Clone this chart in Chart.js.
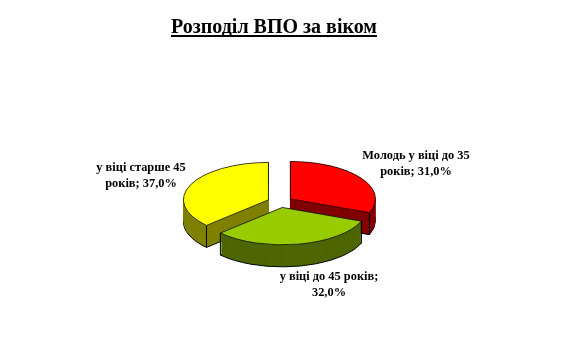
<!DOCTYPE html>
<html>
<head>
<meta charset="utf-8">
<title>Розподіл ВПО за віком</title>
<script src="https://cdn.jsdelivr.net/npm/chart.js@4"></script>
<style>
  html, body { margin: 0; background: #fff; }
  canvas { display: block; }
</style>
</head>
<body>
<canvas id="piechart" width="587" height="340"></canvas>
<script>
const categories = ["Молодь у віці до 35 років", "у віці до 45 років", "у віці старше 45 років"];
const values = [31, 32, 37];
const titleText = "Розподіл ВПО за віком";

const topColors = ["#ff0000", "#99cc00", "#ffff00"];
const wallColors = ["#800000", "#4d6600", "#808000"];

// Pie tilt
const tilt = 0.44;
const depth = 22;
const pieRadius = 85;
const explode = 12.6; // arc offset option also grows the radius, so slices get moved by hand
const wallOrder = [2, 0, 1]; // green wall goes last, it is in front

// label lines, split where the reference splits them
const labelLines = [
  ["Молодь у віці до 35", "років; "],
  ["у віці до 45 років;", ""],
  ["у віці старше 45", "років; "],
];
const labelPos = [
  [416, 156],
  [329, 277],
  [141, 168],
];

function pivotY(chart) {
  return (chart.chartArea.top + chart.chartArea.bottom) / 2;
}

function wedgePath(ctx, arc, pivot, shift) {
  ctx.save();
  ctx.translate(0, pivot + shift);
  ctx.scale(1, tilt);
  ctx.translate(0, -pivot);
  ctx.beginPath();
  ctx.moveTo(arc.x, arc.y);
  ctx.arc(arc.x, arc.y, arc.outerRadius, arc.startAngle, arc.endAngle);
  ctx.closePath();
  ctx.restore();
}

const tiltPlugin = {
  id: "tilt",
  afterDatasetsUpdate(chart) {
    chart.getDatasetMeta(0).data.forEach((arc) => {
      const mid = (arc.startAngle + arc.endAngle) / 2;
      arc.x += Math.cos(mid) * explode;
      arc.y += Math.sin(mid) * explode;
    });
  },
  beforeDatasetsDraw(chart) {
    const ctx = chart.ctx;
    const pivot = pivotY(chart);
    const arcs = chart.getDatasetMeta(0).data;
    wallOrder.forEach((i) => {
      const arc = arcs[i];
      ctx.fillStyle = wallColors[i];
      ctx.strokeStyle = "#000";
      ctx.lineWidth = 1;
      wedgePath(ctx, arc, pivot, depth);
      ctx.fill();
      ctx.stroke();
      for (let s = depth - 1; s >= 0; s--) {
        wedgePath(ctx, arc, pivot, s);
        ctx.fill();
      }
      // vertical edges at both ends of the rim
      [arc.startAngle, arc.endAngle].forEach((a) => {
        const x = arc.x + Math.cos(a) * arc.outerRadius;
        const y = pivot + (arc.y - pivot + Math.sin(a) * arc.outerRadius) * tilt;
        ctx.beginPath();
        ctx.moveTo(x, y);
        ctx.lineTo(x, y + depth);
        ctx.stroke();
      });
    });
  },
  beforeDatasetDraw(chart) {
    const ctx = chart.ctx;
    const pivot = pivotY(chart);
    ctx.save();
    ctx.translate(0, pivot);
    ctx.scale(1, tilt);
    ctx.translate(0, -pivot);
  },
  afterDatasetDraw(chart) {
    chart.ctx.restore();
  },
  afterDraw(chart) {
    const ctx = chart.ctx;
    ctx.save();
    ctx.fillStyle = "#000";
    // title underline
    ctx.font = "bold 20px 'Liberation Serif'";
    const w = ctx.measureText(titleText).width;
    ctx.fillRect(chart.titleBlock.left, 35, w, 2);
    // data labels
    ctx.font = "bold 12.4px 'Liberation Serif'";
    ctx.textAlign = "center";
    ctx.textBaseline = "middle";
    labelLines.forEach((lines, i) => {
      const pct = values[i].toFixed(1).replace(".", ",") + "%";
      ctx.fillText(lines[0], labelPos[i][0], labelPos[i][1]);
      ctx.fillText(lines[1] + pct, labelPos[i][0], labelPos[i][1] + 16);
    });
    ctx.restore();
  },
};

new Chart(document.getElementById("piechart").getContext("2d"), {
  type: "pie",
  data: {
    labels: categories,
    datasets: [
      {
        data: values,
        backgroundColor: topColors,
        borderColor: "#000",
        borderWidth: 1,
        clip: false,
      },
    ],
  },
  options: {
    responsive: false,
    animation: false,
    events: [],
    radius: pieRadius,
    layout: {
      padding: { left: 171, right: 198, top: 0, bottom: 29 },
    },
    plugins: {
      legend: false, // Hide legend
      tooltip: { enabled: false },
      title: {
        display: true,
        text: titleText,
        align: "start",
        color: "#000",
        font: { family: "'Liberation Serif'", size: 20, weight: "bold" },
        padding: { top: 16, bottom: 53 },
      },
    },
  },
  plugins: [tiltPlugin],
});
</script>
</body>
</html>
